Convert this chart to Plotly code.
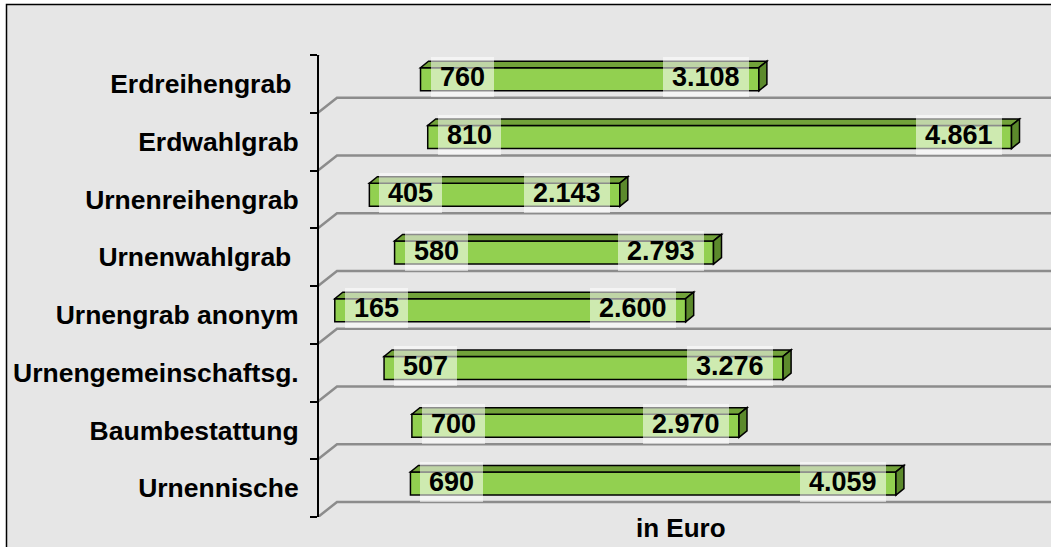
import plotly.graph_objects as go

# ---- data ----
categories = ["Erdreihengrab\u00a0", "Erdwahlgrab", "Urnenreihengrab", "Urnenwahlgrab\u00a0",
              "Urnengrab anonym", "Urnengemeinschaftsg.", "Baumbestattung", "Urnennische"]
min_values = [760, 810, 405, 580, 165, 507, 700, 690]
max_values = [3108, 4861, 2143, 2793, 2600, 3276, 2970, 4059]
axis_title = "in Euro"

# ---- geometry / style ----
W, H = 1051, 547
FONT = "Arial, Liberation Sans, sans-serif"
x_dom = [311 / W, 1.0]
x_rng = [0, 5135]
y_top_px, y_bot_px = 55, 517
y_dom = [(H - y_bot_px) / H, (H - y_top_px) / H]
n = len(categories)
px_per_unit_x = (W * (x_dom[1] - x_dom[0])) / (x_rng[1] - x_rng[0])
px_per_cat = (y_bot_px - y_top_px) / n

bar_off, bar_w = -0.28, 0.40
depth_dx = 8 / px_per_unit_x          # 3D depth of bars in data units
depth_dy = 6.5 / px_per_cat

front = "#92d050"
top_c = "#72a23a"
side_c = "#5c8a2c"

def fmt(v):
    return f"{v:,}".replace(",", ".")

def text_w(s, size):
    return sum((0.278 if c == "." else 0.556) * size for c in s)

idx = list(range(n))

fig = go.Figure()
fig.add_trace(go.Bar(
    orientation="h", y=idx,
    x=[mx - mn for mn, mx in zip(min_values, max_values)],
    base=min_values, width=bar_w, offset=bar_off,
    marker=dict(color=front, line=dict(color="black", width=1.5)),
    hoverinfo="skip", showlegend=False,
))

shapes = []
# background panel with border
shapes.append(dict(type="rect", xref="paper", yref="paper",
                   x0=6.5 / W, x1=1.02, y0=-0.02, y1=1 - 4.5 / H,
                   fillcolor="#e6e6e6", line=dict(color="black", width=1.5), layer="below"))
# 3D gridlines at category boundaries
g_dx = 19 / W
g_dy = 15 / px_per_cat
ax_x = 318 / W
for k in range(n + 1):
    b = k - 0.5
    shapes.append(dict(type="path", xref="paper", yref="y",
                       path=f"M {ax_x} {b} L {ax_x + g_dx} {b - g_dy} L 1.0 {b - g_dy}",
                       line=dict(color="#8c8c8c", width=2.5), layer="below"))
# 3D faces of bars
for i, (mn, mx) in enumerate(zip(min_values, max_values)):
    yt = i + bar_off
    yb = i + bar_off + bar_w
    shapes.append(dict(type="path", xref="x", yref="y",
                       path=f"M {mn} {yt} L {mx} {yt} L {mx + depth_dx} {yt - depth_dy} L {mn + depth_dx} {yt - depth_dy} Z",
                       fillcolor=top_c, line=dict(color="black", width=1.5), layer="above"))
    shapes.append(dict(type="path", xref="x", yref="y",
                       path=f"M {mx} {yt} L {mx + depth_dx} {yt - depth_dy} L {mx + depth_dx} {yb - depth_dy} L {mx} {yb} Z",
                       fillcolor=side_c, line=dict(color="black", width=1.5), layer="above"))

annotations = []
LBL = 27
for i, (mn, mx) in enumerate(zip(min_values, max_values)):
    yc = i + bar_off + bar_w / 2 - 2 / px_per_cat
    for v, anchor, shift in ((mn, "left", 10), (mx, "right", -10)):
        s = fmt(v)
        annotations.append(dict(
            x=v, y=yc, xref="x", yref="y", text=s, showarrow=False,
            xanchor=anchor, yanchor="middle", xshift=shift,
            font=dict(family=FONT, size=LBL, color="black", weight="bold"),
            bgcolor="rgba(255,255,255,0.55)", borderpad=3, borderwidth=0,
            width=text_w(s, LBL) + 12, height=34,
        ))
annotations.append(dict(x=681 / W, y=(H - 528) / H, xref="paper", yref="paper",
                        text=axis_title, showarrow=False, xanchor="center", yanchor="middle",
                        font=dict(family=FONT, size=26, color="black", weight="bold")))

fig.update_layout(
    width=W, height=H, margin=dict(l=0, r=0, t=0, b=0),
    paper_bgcolor="white", plot_bgcolor="rgba(0,0,0,0)",
    shapes=shapes, annotations=annotations, showlegend=False,
    xaxis=dict(domain=x_dom, range=x_rng, visible=False, fixedrange=True),
    yaxis=dict(domain=y_dom, range=[n - 0.5, -0.5], type="linear",
               anchor="free", position=ax_x, fixedrange=True,
               showline=True, linecolor="black", linewidth=2,
               tickvals=idx, ticktext=categories, ticks="",
               showgrid=False, zeroline=False, ticklabelstandoff=13,
               tickfont=dict(family=FONT, size=26.5, color="black", weight="bold"),
               minor=dict(tickvals=[k - 0.5 for k in range(n + 1)], ticks="outside",
                          ticklen=7, tickcolor="black", tickwidth=1.5, showgrid=False)),
)

fig.write_html("out.html", config={"displayModeBar": False},
               post_script="document.body.style.margin='0';document.body.style.overflow='hidden';")
